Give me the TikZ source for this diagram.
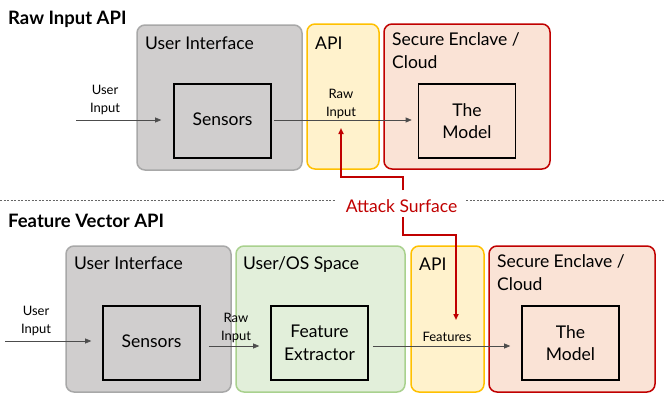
\documentclass[tikz,border=0pt]{standalone}
\usepackage{fontspec}
\setmainfont{Lato}
\usetikzlibrary{arrows.meta}
\definecolor{uifill}{RGB}{208,206,206}
\definecolor{uidraw}{RGB}{168,168,168}
\definecolor{apifill}{RGB}{255,242,204}
\definecolor{apidraw}{RGB}{255,192,0}
\definecolor{secfill}{RGB}{250,227,214}
\definecolor{secdraw}{RGB}{192,0,0}
\definecolor{osfill}{RGB}{226,239,218}
\definecolor{osdraw}{RGB}{169,209,142}
\definecolor{atkred}{RGB}{192,0,0}
\begin{document}
\begin{tikzpicture}[x=1pt,y=-1pt,
  region/.style={draw, rounded corners=8pt, line width=1.5pt, inner sep=0pt},
  uireg/.style={region, fill=uifill, draw=uidraw},
  apireg/.style={region, fill=apifill, draw=apidraw},
  secreg/.style={region, fill=secfill, draw=secdraw},
  osreg/.style={region, fill=osfill, draw=osdraw},
  inner/.style={draw=black, line width=1.6pt, minimum width=97pt, minimum height=74pt, inner sep=0pt, align=center, font=\fontsize{17.5}{22.5}\selectfont},
  reglabel/.style={anchor=base west, inner sep=0pt, align=left, font=\fontsize{17.5}{23}\selectfont},
  title/.style={anchor=base west, inner sep=0pt, font=\fontsize{18.5}{20}\selectfont\bfseries},
  small/.style={inner sep=0pt, align=center, font=\fontsize{13}{18}\selectfont},
  flow/.style={draw=black!70, line width=0.6pt, -{Triangle[length=6pt,width=5pt]}},
  atk/.style={draw=atkred, line width=1.6pt, -{Triangle[length=6pt,width=5pt]}}
]
\useasboundingbox (0,0) rectangle (665,402);

% ---------- top ----------
\node[title] (t1) at (8,24) {Raw Input API};
\node[uireg, minimum width=165pt, minimum height=145pt] (ui1) at (219.5,97.5) {};
\node[apireg, minimum width=72pt, minimum height=145pt] (api1) at (343,96.5) {};
\node[secreg, minimum width=166pt, minimum height=145pt] (sec1) at (467,96.5) {};
\node[reglabel] (ui1l) at (145,49) {User Interface};
\node[reglabel] (api1l) at (315,49) {API};
\node[reglabel] (sec1l) at (392,68) {Secure Enclave /\\Cloud};
\node[inner, fill=uifill] (sens1) at (222.5,121) {\raisebox{4pt}{Sensors}};
\node[inner, fill=secfill] (mod1) at (467,121) {The\\Model};
\node[small] (ui1in) at (105,100) {User\\Input};
\node[small] (raw1) at (341,103.5) {Raw\\Input};
\coordinate (in1) at (76,120);
\draw[flow] (in1) -- ([xshift=-12pt,yshift=1pt]sens1.west);
\draw[flow] ([xshift=2pt,yshift=1pt]sens1.east) -- ([xshift=-6pt,yshift=1pt]mod1.west);

% ---------- bottom ----------
\node[title] (t2) at (8,227) {Feature Vector API};
\node[uireg, minimum width=165pt, minimum height=146pt] (ui2) at (148.5,319) {};
\node[osreg, minimum width=169pt, minimum height=146pt] (os2) at (320.5,319) {};
\node[apireg, minimum width=73pt, minimum height=146pt] (api2) at (447.5,319) {};
\node[secreg, minimum width=166pt, minimum height=146pt] (sec2) at (572,319) {};
\node[reglabel] (ui2l) at (74,269) {User Interface};
\node[reglabel] (os2l) at (243,269) {User/OS Space};
\node[reglabel] (api2l) at (419,270) {API};
\node[reglabel] (sec2l) at (497,290) {Secure Enclave /\\Cloud};
\node[inner, fill=uifill] (sens2) at (151.5,343) {\raisebox{4pt}{Sensors}};
\node[inner, fill=osfill] (fe) at (319.5,343) {Feature\\Extractor};
\node[inner, fill=secfill] (mod2) at (570.5,343) {The\\Model};
\node[small] (ui2in) at (36,321) {User\\Input};
\node[small] (raw2) at (236,327.5) {Raw\\Input};
\node[small, anchor=base] (feat) at (447,341) {Features};
\coordinate (in2) at (5,341);
\draw[flow] (in2) -- ([xshift=-11pt,yshift=2pt]sens2.west);
\draw[flow] ([xshift=8pt,yshift=-3pt]sens2.east) -- ([xshift=-11pt,yshift=-3pt]fe.west);
\draw[flow] ([xshift=4pt,yshift=-3pt]fe.east) -- ([xshift=-11pt,yshift=-3pt]mod2.west);

% ---------- separator and attack surface ----------
\node[inner sep=0pt, anchor=base, text=atkred, font=\fontsize{17.5}{20}\selectfont] (atk) at (401.5,212) {Attack Surface};
\coordinate (dl) at (0,200);
\coordinate (dr) at (665,200);
\draw[black!60, line width=0.5pt, dash pattern=on 2pt off 1.5pt] (dl) -- ([xshift=-10pt]atk.west |- dl);
\draw[black!60, line width=0.5pt, dash pattern=on 2pt off 1.5pt] ([xshift=9pt]atk.east |- dr) -- (dr);
\coordinate (atkTop) at (403,190);
\coordinate (atkBot) at (403,217);
\coordinate (tipA) at (341,128);
\coordinate (tipB) at (456,320);
\draw[atk] (atkTop) -- ++(0,-13) -| (tipA);
\draw[atk] (atkBot) -- ++(0,18) -| (tipB);
\end{tikzpicture}
\end{document}
